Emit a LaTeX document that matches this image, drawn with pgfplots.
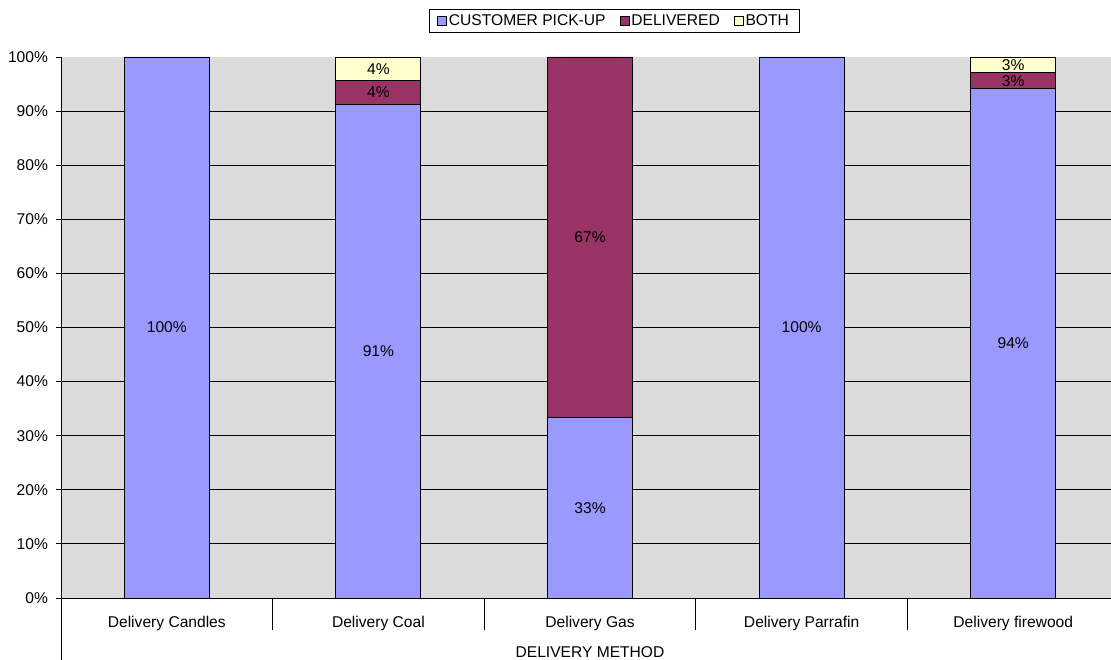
\documentclass[border=0pt]{standalone}
\usepackage{pgfplots}
\usepackage{pgfplotstable}
\pgfplotsset{compat=1.18}
\usepackage{fontspec}
\setmainfont{Liberation Sans}

\definecolor{pickup}{HTML}{9999FF}
\definecolor{delivered}{HTML}{993366}
\definecolor{both}{HTML}{FFFFCC}
\definecolor{wallgrey}{RGB}{219,219,219}

\pgfplotsset{
  sqlegend/.style={legend image code/.code={%
    \draw[##1,draw=black,line width=0.8pt] (0pt,-4.5pt) rectangle (9pt,4.5pt);}},
}

% share of each delivery method, per fuel (percent)
\pgfplotstableread{
x pickup delivered both
0 100   0     0
1 91.30 4.35  4.35
2 33.33 66.67 0
3 100   0     0
4 94.12 2.94  2.94
}\shares

\begin{document}
\begin{tikzpicture}[font=\fontsize{15.6}{18}\selectfont]
\path[use as bounding box] (0pt,0pt) rectangle (1111pt,660pt);
\begin{axis}[
  at={(61pt,62pt)}, anchor=south west,
  scale only axis, width=1050pt, height=541pt,
  ybar stacked, bar width=85pt,
  xmin=-0.5, xmax=4.462,
  ymin=0, ymax=100,
  axis x line=bottom, axis y line=left,
  axis line style={-, black, line width=0.9pt},
  axis background/.style={fill=wallgrey},
  clip=false,
  xtick={0,...,4},
  xticklabels={Delivery Candles,Delivery Coal,Delivery Gas,Delivery Parrafin,Delivery firewood},
  xtick style={draw=none},
  xticklabel style={yshift=-10pt},
  ytick={0,10,...,90},
  extra y ticks={100},
  extra y tick style={grid=none},
  yticklabel={\pgfmathprintnumber{\tick}\%},
  yticklabel style={xshift=-4.5pt},
  /pgf/number format/assume math mode=true,
  tick align=outside, major tick length=5pt,
  ytick style={black, line width=0.8pt},
  ymajorgrids, grid style={black, line width=0.8pt},
  xlabel={DELIVERY METHOD},
  xlabel style={at={(axis description cs:0.5038,0)}, anchor=center, yshift=-54pt},
  legend columns=-1,
  legend style={at={(axis description cs:0.5267,1)}, anchor=center, yshift=36pt,
    draw=black, line width=0.8pt, fill=white, inner xsep=8pt, inner ysep=3.5pt,
    /tikz/every even column/.append style={column sep=12pt},
    nodes={inner xsep=2pt}},
  % labels sit in the middle of each segment; empty segments get none
  nodes near coords={\pgfmathfloatifflags{\pgfplotspointmeta}{0}{}{\pgfmathprintnumber[fixed,precision=0]{\pgfplotspointmeta}\%}},
  every node near coord/.append style={anchor=center, text=black},
  every axis plot/.append style={draw=black, line width=0.9pt, sqlegend},
]
\addplot[fill=pickup]    table[x=x, y=pickup]    {\shares};
\addplot[fill=delivered] table[x=x, y=delivered] {\shares};
\addplot[fill=both]      table[x=x, y=both]      {\shares};
\legend{CUSTOMER PICK-UP, DELIVERED, BOTH}
% category separators below the axis
\pgfplotsinvokeforeach{0.5,1.5,2.5,3.5}{
  \draw[black, line width=0.9pt] (axis cs:#1,0) -- ++(0pt,-32pt);
}
\draw[black, line width=0.9pt] (axis cs:-0.5,0) -- ++(0pt,-62pt);
\end{axis}
\end{tikzpicture}
\end{document}
